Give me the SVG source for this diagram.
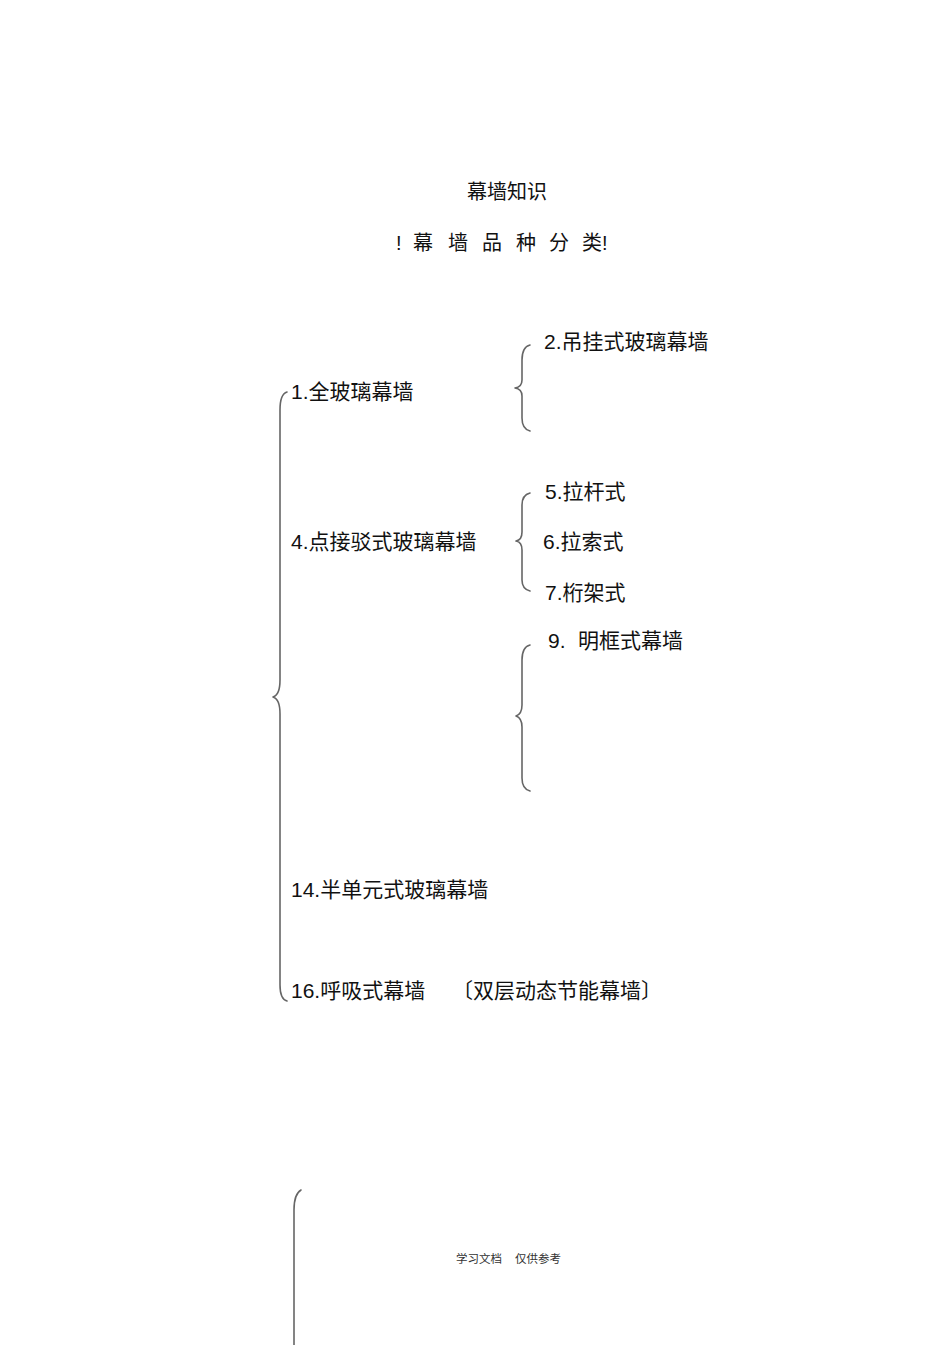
<svg xmlns="http://www.w3.org/2000/svg" width="950" height="1345" viewBox="0 0 950 1345">
<style>
.t{font-family:"Liberation Sans","Noto Sans CJK SC",sans-serif;font-size:21px;fill:#111}
.s{font-size:20px}
.f{font-size:11.5px;fill:#333}
.b{fill:none;stroke:#666;stroke-width:1.6;stroke-linecap:round;stroke-linejoin:round}
</style>
<rect width="950" height="1345" fill="#fff"/>
<g id="title"><text class="t s" x="507" y="199" text-anchor="middle">幕墙知识</text></g>
<g id="subtitle">
<text class="t s" x="396" y="250">!</text>
<text class="t s" x="413" y="250">幕</text>
<text class="t s" x="448" y="250">墙</text>
<text class="t s" x="482" y="250">品</text>
<text class="t s" x="516" y="250">种</text>
<text class="t s" x="549" y="250">分</text>
<text class="t s" x="582" y="250">类!</text>
</g>
<g id="connectors">
<path class="b" d="M287,392 Q280,394 280,410 L280,680 Q280,695 273,697 Q280,699 280,714 L280,985 Q280,999 287,1001"/>
<path class="b" d="M530,345 Q522,347 522,360 L522,380 Q522,387 515,388 Q522,389 522,396 L522,418 Q522,429 530,431"/>
<path class="b" d="M530,493 Q522,495 522,505 L522,532 Q522,540 516,541 Q522,542 522,550 L522,580 Q522,589 530,591"/>
<path class="b" d="M530,645 Q522,647 522,660 L522,705 Q522,714 516,716 Q522,718 522,727 L522,778 Q522,789 530,791"/>
<path class="b" d="M301,1190 Q294,1194 294,1210 L294,1345"/>
</g>
<g id="n1"><text class="t" x="291" y="399">1.全玻璃幕墙</text></g>
<g id="n2"><text class="t" x="544" y="349">2.吊挂式玻璃幕墙</text></g>
<g id="n4"><text class="t" x="291" y="549">4.点接驳式玻璃幕墙</text></g>
<g id="n5"><text class="t" x="545" y="499">5.拉杆式</text></g>
<g id="n6"><text class="t" x="543" y="549">6.拉索式</text></g>
<g id="n7"><text class="t" x="545" y="600">7.桁架式</text></g>
<g id="n9"><text class="t" x="548" y="648">9.</text><text class="t" x="578" y="648">明框式幕墙</text></g>
<g id="n14"><text class="t" x="291" y="897">14.半单元式玻璃幕墙</text></g>
<g id="n16"><text class="t" x="291" y="998">16.呼吸式幕墙</text><text class="t" x="452" y="998">〔双层动态节能幕墙〕</text></g>
<g id="footer"><text class="t f" x="456" y="1263">学习文档</text><text class="t f" x="515" y="1263">仅供参考</text></g>
</svg>
